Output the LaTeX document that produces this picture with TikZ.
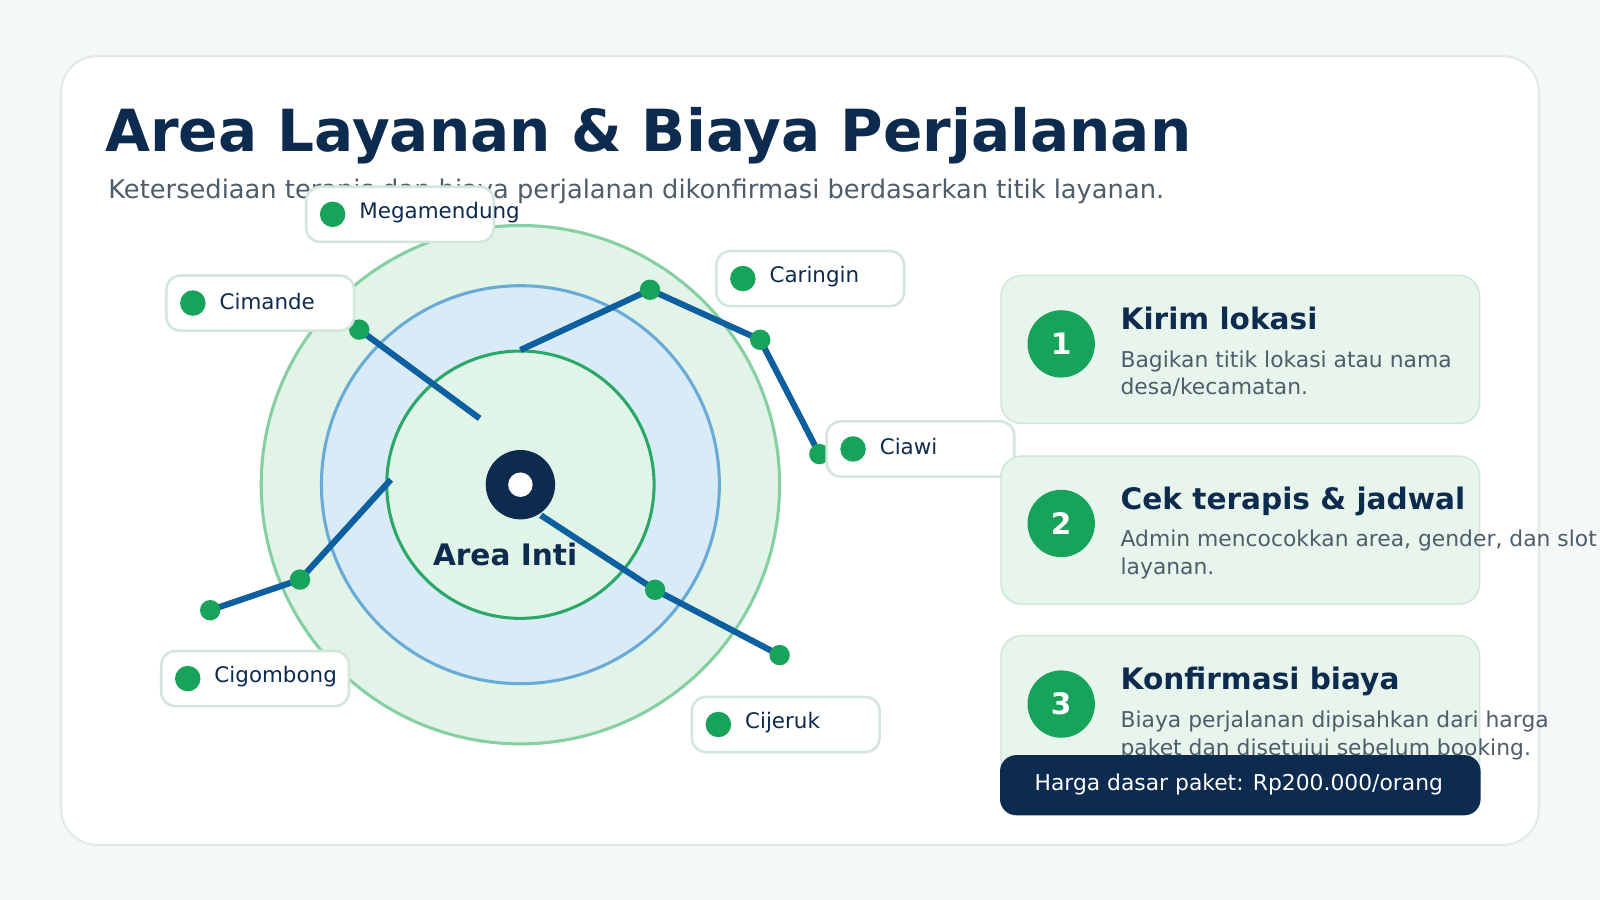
\documentclass[tikz,border=0pt]{standalone}
\usepackage{fontspec}
\setmainfont{DejaVu Sans}
\begin{document}
\begin{tikzpicture}[x=1pt,y=-1pt,
 navy/.style={text=c1},
 lbl/.style={draw=cb,fill=white,line width=2.5pt,rounded corners=14pt},
 gdot/.style={fill=cg,draw=none},
 road/.style={draw=cr,line width=6pt},
 card/.style={draw=cc,fill=cf,line width=1.5pt,rounded corners=20pt}]
\definecolor{c1}{HTML}{0D2B4E}\definecolor{cb}{HTML}{D3E6DC}\definecolor{cg}{HTML}{17A35A}
\definecolor{cr}{HTML}{0D5FA0}\definecolor{cc}{HTML}{CDE8D7}\definecolor{cf}{HTML}{E7F5EC}
\definecolor{cgr}{HTML}{4F5D6B}
\fill[fill={rgb,255:red,244;green,248;blue,247}] (0,0) rectangle (1568,882);
\useasboundingbox (0,0) rectangle (1568,882);
\draw[fill=white,draw={rgb,255:red,225;green,234;blue,230},line width=2pt,rounded corners=35pt] (60,55) rectangle (1508,828);
\node[anchor=base west,navy,font=\bfseries\fontsize{56.9}{60}\selectfont,inner sep=0] (title) at (103,148) {Area Layanan \& Biaya Perjalanan};
\node[anchor=base west,text=cgr,font=\fontsize{25.2}{28}\selectfont,inner sep=0] (sub) at (106,195) {Ketersediaan terapis dan biaya perjalanan dikonfirmasi berdasarkan titik layanan.};
% circles
\draw[fill={rgb,255:red,226;green,244;blue,232},draw={rgb,255:red,134;green,207;blue,160},line width=3pt] (510,475) circle[radius=254];
\draw[fill={rgb,255:red,216;green,235;blue,247},draw={rgb,255:red,106;green,170;blue,214},line width=3pt] (510,475) circle[radius=195];
\draw[fill={rgb,255:red,224;green,245;blue,232},draw={rgb,255:red,43;green,168;blue,104},line width=3pt] (510,475) circle[radius=131];
\node[navy,font=\bfseries\fontsize{29}{30}\selectfont] (inti) at (495,543) {Area Inti};
% roads
\coordinate (a0) at (470,410);\coordinate (a1) at (352,323);
\coordinate (b0) at (510,343);\coordinate (b1) at (637,284);\coordinate (b2) at (745,333);\coordinate (b3) at (803,445);
\coordinate (k0) at (383,470);\coordinate (k1) at (294,568);\coordinate (k2) at (206,598);
\coordinate (d0) at (530,505);\coordinate (d1) at (642,578);\coordinate (d2) at (764,642);
\draw[road] (a0)--(a1);
\draw[road] (b0)--(b1)--(b2)--(b3);
\draw[road] (k0)--(k1)--(k2);
\draw[road] (d0)--(d1)--(d2);
\foreach \p in {a1,b1,b2,b3,k1,k2,d1,d2} \fill[gdot] (\p) circle[radius=10];
\fill[c1] (510,475) circle[radius=34];\fill[white] (510,475) circle[radius=12];
% labels
\foreach \x/\y/\t/\n in {300/183/Megamendung/l1,163/270/Cimande/l2,702/246/Caringin/l3,810/413/Ciawi/l4,158/638/Cigombong/l5,678/683/Cijeruk/l6}{
 \draw[lbl] (\x,\y) rectangle ++(184,54);
 \fill[gdot] (\x+26,\y+27) circle[radius=12.5];
 \node[anchor=west,navy,font=\fontsize{21}{22}\selectfont,inner sep=0] (\n) at (\x+52,\y+25) {\t};
}
% cards
\draw[card] (981,270) rectangle (1450,415);
\draw[card] (981,447) rectangle (1450,592);
\draw[card] (981,623) rectangle (1450,790);
\foreach \y/\k/\t/\la/\lb in {337/1/Kirim lokasi/Bagikan titik lokasi atau nama/desa\slash kecamatan.,513/2/Cek terapis \& jadwal/{Admin mencocokkan area, gender, dan slot}/layanan.,690/3/Konfirmasi biaya/Biaya perjalanan dipisahkan dari harga/paket dan disetujui sebelum booking.}{
 \fill[cg] (1040,\y) circle[radius=33];
 \node[text=white,font=\bfseries\fontsize{29}{30}\selectfont] at (1040,\y) {\k};
 \node[anchor=base west,navy,font=\bfseries\fontsize{29}{31}\selectfont,inner sep=0] at (1098,\y-14) {\t};
 \node[anchor=base west,text=cgr,font=\fontsize{21.4}{22}\selectfont,inner sep=0] at (1098,\y+23) {\la};
 \node[anchor=base west,text=cgr,font=\fontsize{21.4}{22}\selectfont,inner sep=0] at (1098,\y+50) {\lb};
}
\fill[c1,rounded corners=16pt] (980,740) rectangle (1451,799);
\node[text=white,font=\fontsize{21.4}{22}\selectfont] (price) at (1214,769) {Harga dasar paket: Rp200.000/orang};
\end{tikzpicture}
\end{document}
